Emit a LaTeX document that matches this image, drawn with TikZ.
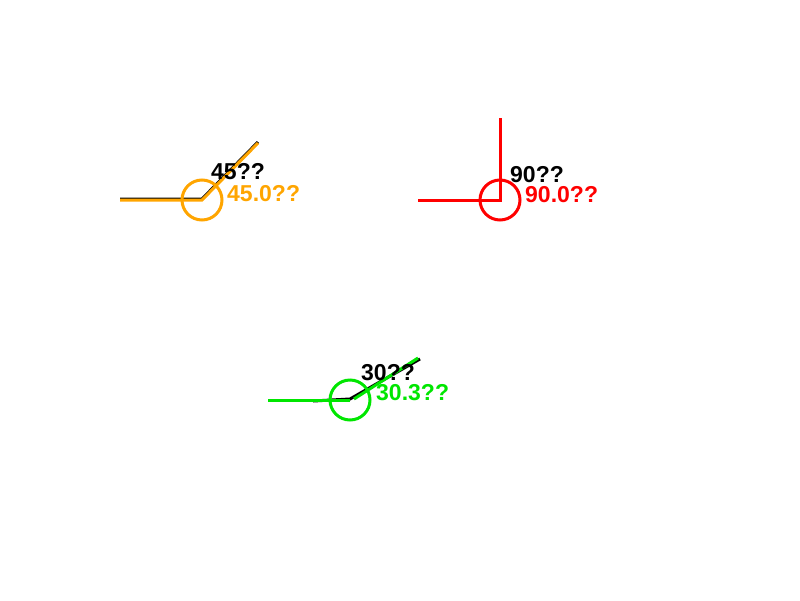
\documentclass[tikz,border=0pt]{standalone}
\usepackage{fontspec}
\setmainfont{Liberation Sans}
\definecolor{cvorange}{RGB}{255,165,0}
\definecolor{cvred}{RGB}{255,0,0}
\definecolor{cvgreen}{RGB}{0,230,0}
\begin{document}
\begin{tikzpicture}[x=1pt,y=-1pt,
  seg/.style={line width=3pt},
  ring/.style={line width=3pt},
  lbl/.style={inner sep=0pt,anchor=base west,text depth=0pt,text height=16pt,
    font=\fontsize{23}{23}\selectfont}]
\useasboundingbox (0,0) rectangle (800,600);
% figure 1 (45)
\coordinate (v1) at (202,200);
\coordinate (a1) at (120,200);
\coordinate (b1) at (258,143);
\draw[seg,black] ([yshift=1pt]a1) -- ([yshift=1pt]v1) -- ([yshift=1pt]b1);
\draw[seg,cvorange] (a1) -- (v1) -- (b1);
\draw[ring,cvorange] (v1) circle (20);
\node[lbl,black] (t1) at (211,179) {\textbf{45??}};
\node[lbl,cvorange] (u1) at (227,201) {\textbf{45.0??}};
% figure 2 (90)
\coordinate (v2) at (500,200);
\coordinate (a2) at (418,200);
\coordinate (b2) at (500,118);
\draw[seg,cvred] (a2) -- (v2) -- (b2);
\draw[ring,cvred] (v2) circle (20);
\node[lbl,black] (t2) at (510,182) {\textbf{90??}};
\node[lbl,cvred] (u2) at (525,202) {\textbf{90.0??}};
% figure 3 (30)
\coordinate (v3) at (350,400);
\coordinate (a3) at (313,401);
\coordinate (b3) at (420,359);
\coordinate (a3g) at (268,400);
\coordinate (s3g) at (354,399);
\coordinate (b3g) at (418,358);
\draw[seg,black] (a3) -- ([yshift=1pt]v3) -- (b3);
\draw[seg,cvgreen] (a3g) -- (v3);
\draw[seg,cvgreen] (s3g) -- (b3g);
\draw[ring,cvgreen] (v3) circle (20);
\node[lbl,black] (t3) at (361,380) {\textbf{30??}};
\node[lbl,cvgreen] (u3) at (376,400) {\textbf{30.3??}};
\end{tikzpicture}
\end{document}
